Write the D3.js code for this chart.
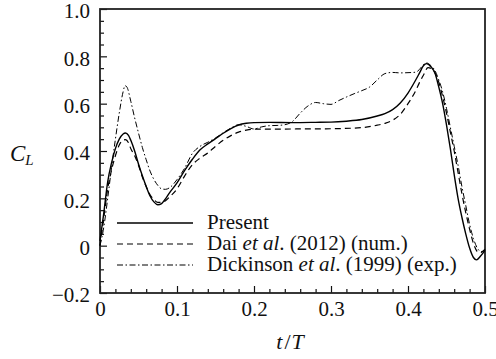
<!DOCTYPE html>
<html>
<head>
<meta charset="utf-8">
<script src="https://cdn.jsdelivr.net/npm/d3@7"></script>
<style>
  html, body { margin: 0; padding: 0; background: #fff; }
  svg { display: block; font-family: "Liberation Serif", "Times New Roman", serif; }
</style>
</head>
<body>
<svg id="chart" width="496" height="359"></svg>
<script>
// Lift coefficient over the first half stroke (t/T from 0 to 0.5)
const tPresent = [0, 0.005, 0.01, 0.015, 0.02, 0.025, 0.03, 0.033, 0.037, 0.04, 0.045, 0.05, 0.055, 0.06, 0.065, 0.07, 0.075, 0.08, 0.085, 0.09, 0.1, 0.11, 0.12, 0.13, 0.14, 0.15, 0.16, 0.17, 0.18, 0.19, 0.2, 0.22, 0.25, 0.28, 0.3, 0.32, 0.34, 0.36, 0.37, 0.38, 0.39, 0.4, 0.41, 0.415, 0.42, 0.424, 0.43, 0.435, 0.44, 0.445, 0.45, 0.455, 0.46, 0.465, 0.47, 0.475, 0.48, 0.485, 0.489, 0.494, 0.5];
const clPresent = [0.02, 0.14, 0.27, 0.35, 0.41, 0.45, 0.472, 0.476, 0.466, 0.445, 0.40, 0.345, 0.295, 0.25, 0.21, 0.185, 0.173, 0.178, 0.198, 0.222, 0.265, 0.318, 0.365, 0.405, 0.43, 0.452, 0.475, 0.495, 0.51, 0.517, 0.52, 0.521, 0.52, 0.521, 0.522, 0.526, 0.533, 0.548, 0.558, 0.575, 0.603, 0.645, 0.70, 0.73, 0.76, 0.769, 0.755, 0.73, 0.67, 0.60, 0.51, 0.41, 0.30, 0.20, 0.12, 0.05, -0.01, -0.05, -0.06, -0.045, -0.02];

const tDai = [0, 0.005, 0.01, 0.015, 0.02, 0.025, 0.03, 0.033, 0.037, 0.04, 0.045, 0.05, 0.055, 0.06, 0.065, 0.07, 0.075, 0.08, 0.085, 0.09, 0.1, 0.11, 0.12, 0.13, 0.14, 0.15, 0.16, 0.17, 0.18, 0.19, 0.2, 0.25, 0.3, 0.34, 0.36, 0.37, 0.38, 0.39, 0.4, 0.41, 0.415, 0.42, 0.426, 0.43, 0.435, 0.44, 0.445, 0.45, 0.455, 0.46, 0.465, 0.47, 0.475, 0.48, 0.485, 0.49, 0.494, 0.5];
const clDai = [0.0, 0.12, 0.24, 0.32, 0.38, 0.425, 0.446, 0.448, 0.435, 0.41, 0.38, 0.34, 0.29, 0.25, 0.215, 0.195, 0.183, 0.183, 0.19, 0.205, 0.24, 0.295, 0.342, 0.37, 0.392, 0.42, 0.445, 0.465, 0.48, 0.488, 0.492, 0.493, 0.494, 0.499, 0.509, 0.517, 0.53, 0.555, 0.6, 0.655, 0.69, 0.72, 0.752, 0.748, 0.73, 0.69, 0.63, 0.56, 0.48, 0.40, 0.31, 0.22, 0.14, 0.07, 0.01, -0.025, -0.03, -0.015];

const tDickinson = [0, 0.005, 0.01, 0.015, 0.02, 0.025, 0.03, 0.0325, 0.035, 0.04, 0.045, 0.05, 0.055, 0.06, 0.065, 0.07, 0.075, 0.08, 0.085, 0.09, 0.1, 0.11, 0.12, 0.13, 0.14, 0.15, 0.16, 0.17, 0.18, 0.19, 0.2, 0.21, 0.22, 0.23, 0.24, 0.25, 0.26, 0.27, 0.28, 0.29, 0.3, 0.31, 0.32, 0.33, 0.34, 0.35, 0.36, 0.37, 0.38, 0.39, 0.4, 0.41, 0.415, 0.42, 0.424, 0.43, 0.435, 0.44, 0.445, 0.45, 0.455, 0.46, 0.465, 0.47, 0.475, 0.48, 0.485, 0.49, 0.495, 0.5];
const clDickinson = [0.0, 0.08, 0.2, 0.33, 0.45, 0.56, 0.65, 0.676, 0.67, 0.61, 0.54, 0.476, 0.415, 0.363, 0.315, 0.28, 0.255, 0.24, 0.238, 0.244, 0.279, 0.328, 0.39, 0.42, 0.437, 0.455, 0.477, 0.497, 0.511, 0.504, 0.493, 0.502, 0.507, 0.508, 0.511, 0.525, 0.56, 0.59, 0.605, 0.6, 0.597, 0.613, 0.628, 0.642, 0.655, 0.67, 0.7, 0.727, 0.732, 0.73, 0.731, 0.733, 0.745, 0.765, 0.772, 0.76, 0.74, 0.70, 0.65, 0.58, 0.50, 0.42, 0.34, 0.25, 0.17, 0.09, 0.03, -0.01, -0.025, -0.02];

const xTickValues = [0, 0.1, 0.2, 0.3, 0.4, 0.5];
const xTickLabels = ["0", "0.1", "0.2", "0.3", "0.4", "0.5"];
const yTickValues = [-0.2, 0, 0.2, 0.4, 0.6, 0.8, 1.0];
const yTickLabels = ["\u22120.2", "0", "0.2", "0.4", "0.6", "0.8", "1.0"];

const seriesNames = ["Present", "Dai", "Dickinson"];

const svg = d3.select("#chart");
const plotLeft = 100, plotRight = 485, plotTop = 9, plotBottom = 293;
const fontSize = 21;

const x = d3.scaleLinear().domain([0, 0.5]).range([plotLeft, plotRight]);
const y = d3.scaleLinear().domain([-0.2, 1.0]).range([plotBottom, plotTop]);

// Minor ticks (inward)
const xMinor = d3.range(0, 0.5001, 0.02).filter(v => Math.abs(v * 10 - Math.round(v * 10)) > 1e-6);
const yMinor = d3.range(-0.2, 1.0001, 0.05).filter(v => Math.abs(v * 5 - Math.round(v * 5)) > 1e-6);

svg.append("g")
  .attr("transform", `translate(0,${plotBottom})`)
  .call(d3.axisBottom(x).tickValues(xMinor).tickSizeInner(-4).tickSizeOuter(0).tickFormat(""))
  .call(g => g.select(".domain").remove())
  .selectAll("line").attr("stroke", "#111").attr("stroke-width", 1.2);

svg.append("g")
  .attr("transform", `translate(${plotLeft},0)`)
  .call(d3.axisLeft(y).tickValues(yMinor).tickSizeInner(-4).tickSizeOuter(0).tickFormat(""))
  .call(g => g.select(".domain").remove())
  .selectAll("line").attr("stroke", "#111").attr("stroke-width", 1.2);

// Major ticks and labels
const xAxis = svg.append("g")
  .attr("transform", `translate(0,${plotBottom})`)
  .call(d3.axisBottom(x).tickValues(xTickValues).tickSizeInner(-7).tickSizeOuter(0).tickPadding(8)
    .tickFormat((d, i) => xTickLabels[i]));
xAxis.select(".domain").remove();
xAxis.selectAll("line").attr("stroke", "#111").attr("stroke-width", 1.2);
xAxis.selectAll("text").attr("font-size", fontSize).attr("fill", "#111")
  .attr("font-family", "Liberation Serif, serif");

const yAxis = svg.append("g")
  .attr("transform", `translate(${plotLeft},0)`)
  .call(d3.axisLeft(y).tickValues(yTickValues).tickSizeInner(-7).tickSizeOuter(0).tickPadding(10)
    .tickFormat((d, i) => yTickLabels[i]));
yAxis.select(".domain").remove();
yAxis.selectAll("line").attr("stroke", "#111").attr("stroke-width", 1.2);
yAxis.selectAll("text").attr("font-size", fontSize).attr("fill", "#111")
  .attr("dy", "0.42em")
  .attr("font-family", "Liberation Serif, serif");

// Frame
svg.append("rect")
  .attr("x", plotLeft).attr("y", plotTop)
  .attr("width", plotRight - plotLeft).attr("height", plotBottom - plotTop)
  .attr("fill", "none").attr("stroke", "#222").attr("stroke-width", 1.8);

// Curves
const line = d3.line()
  .x(d => x(d[0]))
  .y(d => y(d[1]))
  .curve(d3.curveMonotoneX);

const series = [
  { name: seriesNames[0], t: tPresent, v: clPresent, dash: null, width: 1.4 },
  { name: seriesNames[1], t: tDai, v: clDai, dash: "6,4", width: 1.2 },
  { name: seriesNames[2], t: tDickinson, v: clDickinson, dash: "6,2.5,1.5,2.5", width: 1.0 }
];

const plot = svg.append("g");
series.forEach(s => {
  plot.append("path")
    .datum(d3.zip(s.t, s.v))
    .attr("d", line)
    .attr("fill", "none")
    .attr("stroke", "#000")
    .attr("stroke-width", s.width)
    .attr("stroke-dasharray", s.dash);
});

// Legend
const legend = svg.append("g");
const legendRows = [
  { y: 223, dash: null, width: 1.4, parts: [["Present", false]] },
  { y: 244, dash: "6,4", width: 1.2, parts: [["Dai ", false], ["et al", true], [". (2012) (num.)", false]] },
  { y: 265, dash: "6,2.5,1.5,2.5", width: 1.0, parts: [["Dickinson ", false], ["et al", true], [". (1999) (exp.)", false]] }
];
legendRows.forEach(r => {
  legend.append("line")
    .attr("x1", 117).attr("x2", 193)
    .attr("y1", r.y).attr("y2", r.y)
    .attr("stroke", "#000").attr("stroke-width", r.width)
    .attr("stroke-dasharray", r.dash);
  const txt = legend.append("text")
    .attr("x", 207).attr("y", r.y + 6)
    .attr("font-size", fontSize).attr("fill", "#111");
  r.parts.forEach(p => {
    txt.append("tspan").text(p[0]).attr("font-style", p[1] ? "italic" : "normal");
  });
});

// Axis titles
const yTitle = svg.append("text").attr("x", 10).attr("y", 161).attr("fill", "#111");
yTitle.append("tspan").text("C").attr("font-style", "italic").attr("font-size", 23);
yTitle.append("tspan").text("L").attr("font-style", "italic").attr("font-size", 15).attr("dy", 4);

const xTitle = svg.append("text").attr("x", 290).attr("y", 349)
  .attr("text-anchor", "middle").attr("fill", "#111").attr("font-size", 22);
xTitle.append("tspan").text("t").attr("font-style", "italic");
xTitle.append("tspan").text("/").attr("dx", 2);
xTitle.append("tspan").text("T").attr("font-style", "italic").attr("dx", 1);
</script>
</body>
</html>
